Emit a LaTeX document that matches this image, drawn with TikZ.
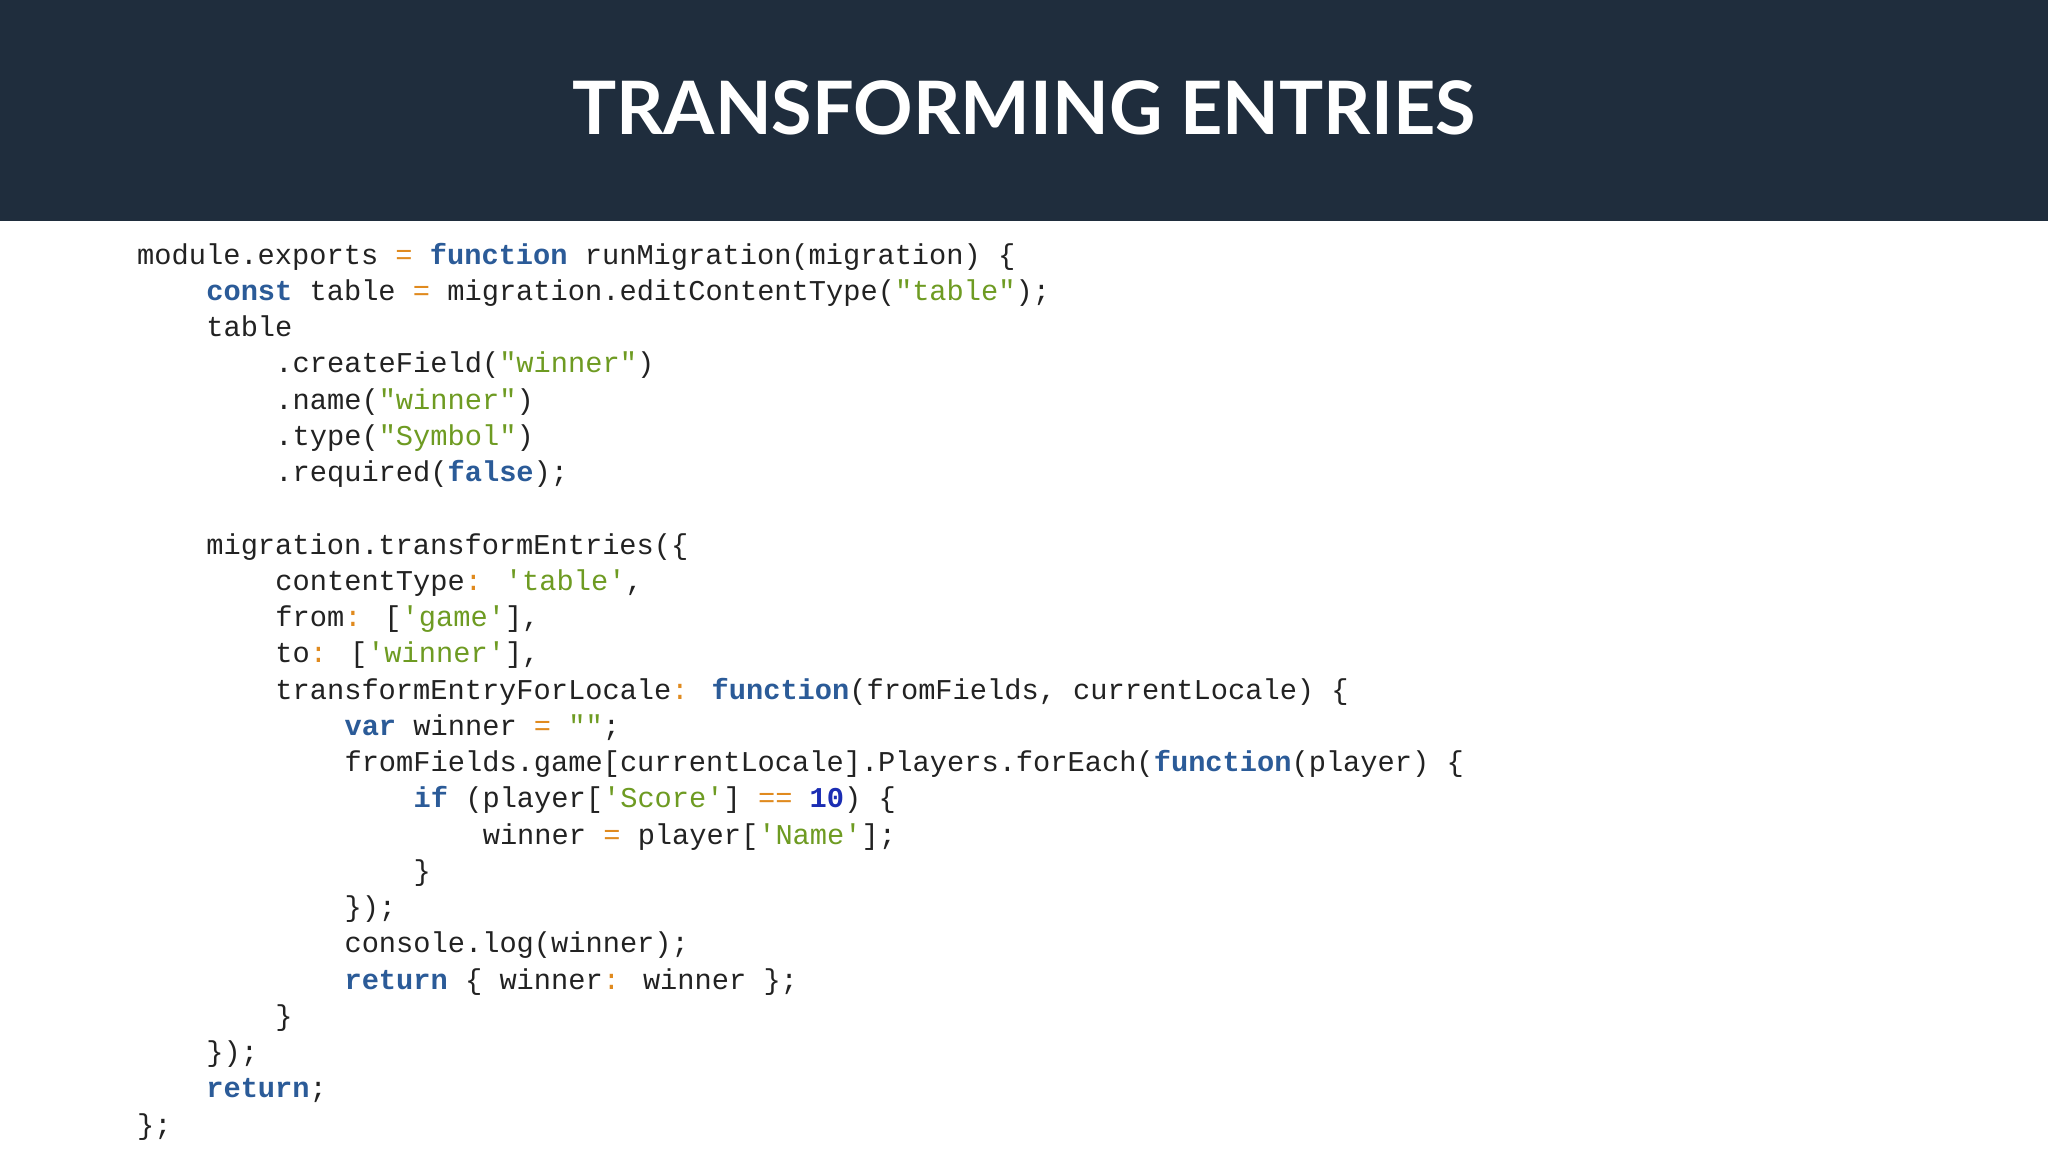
\documentclass[tikz,border=0pt]{standalone}
\usepackage{fontspec}
\setmainfont{Lato}
\newfontfamily\codefont{Liberation Mono}
\definecolor{hdr}{HTML}{1F2D3D}
\definecolor{kwc}{HTML}{2B5B98}
\definecolor{stc}{HTML}{6E9B22}
\definecolor{opc}{HTML}{E08A1E}
\definecolor{nmc}{HTML}{1B2DB3}
\definecolor{txc}{HTML}{222222}
\newcommand{\cKW}[1]{\textcolor{kwc}{\bfseries #1}}
\newcommand{\cST}[1]{\textcolor{stc}{#1}}
\newcommand{\cOP}[1]{\textcolor{opc}{#1}}
\newcommand{\cNM}[1]{\textcolor{nmc}{\bfseries #1}}
\begin{document}
\begin{tikzpicture}[x=1bp,y=-1bp,
  codeline/.style={anchor=base west,inner sep=0pt,text=txc,font=\codefont\fontsize{28.8}{34}\selectfont}]
\useasboundingbox (0,0) rectangle (2048,1152);
\fill[white] (0,0) rectangle (2048,1152);
\fill[hdr] (0,0) rectangle (2048,221);
\node[text=white,font=\bfseries\fontsize{74}{80}\selectfont,inner sep=0pt] (title) at (1024,108) {TRANSFORMING ENTRIES};
\def\LX{137}\def\CW{17.28}\def\LY{264}\def\LS{36.25}
\newcommand{\codeln}[3]{\node[codeline] (l#1) at ({\LX+\CW*#2},{\LY+\LS*#1}) {#3};}
\codeln{0}{0}{module.exports \cOP{=} \cKW{function} runMigration(migration) \{}
\codeln{1}{4}{\cKW{const} table \cOP{=} migration.editContentType(\cST{"table"});}
\codeln{2}{4}{table}
\codeln{3}{8}{.createField(\cST{"winner"})}
\codeln{4}{8}{.name(\cST{"winner"})}
\codeln{5}{8}{.type(\cST{"Symbol"})}
\codeln{6}{8}{.required(\cKW{false});}
\codeln{8}{4}{migration.transformEntries(\{}
\codeln{9}{8}{contentType\cOP{:} \cST{'table'},}
\codeln{10}{8}{from\cOP{:} [\cST{'game'}],}
\codeln{11}{8}{to\cOP{:} [\cST{'winner'}],}
\codeln{12}{8}{transformEntryForLocale\cOP{:} \cKW{function}(fromFields, currentLocale) \{}
\codeln{13}{12}{\cKW{var} winner \cOP{=} \cST{""};}
\codeln{14}{12}{fromFields.game[currentLocale].Players.forEach(\cKW{function}(player) \{}
\codeln{15}{16}{\cKW{if} (player[\cST{'Score'}] \cOP{==} \cNM{10}) \{}
\codeln{16}{20}{winner \cOP{=} player[\cST{'Name'}];}
\codeln{17}{16}{\}}
\codeln{18}{12}{\});}
\codeln{19}{12}{console.log(winner);}
\codeln{20}{12}{\cKW{return} \{ winner\cOP{:} winner \};}
\codeln{21}{8}{\}}
\codeln{22}{4}{\});}
\codeln{23}{4}{\cKW{return};}
\codeln{24}{0}{\};}
\end{tikzpicture}
\end{document}
